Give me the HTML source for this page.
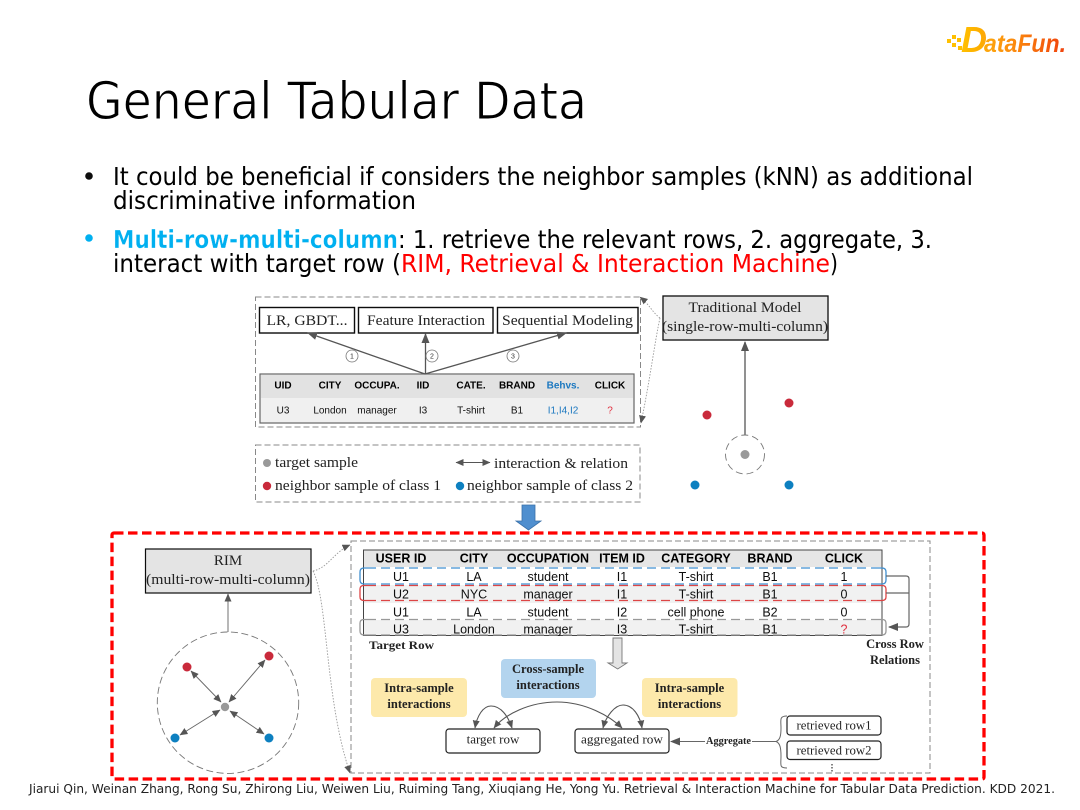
<!DOCTYPE html>
<html><head><meta charset="utf-8">
<style>
html,body{margin:0;padding:0;background:#fff}
svg{display:block}
.sans{font-family:"Liberation Sans",sans-serif}
.ser{font-family:"Liberation Serif",serif}
.dj{font-family:"DejaVu Sans",sans-serif}
.h{font-family:"Liberation Sans",sans-serif;font-weight:bold;fill:#000;text-anchor:middle}
.c{font-family:"Liberation Sans",sans-serif;fill:#111;text-anchor:middle}
.s{font-family:"Liberation Serif",serif;fill:#222}
.b{font-family:"Liberation Serif",serif;font-weight:bold;fill:#222;text-anchor:middle}
</style></head>
<body>
<svg width="1080" height="810" viewBox="0 0 1080 810" xmlns="http://www.w3.org/2000/svg">
<defs>
<filter id="bl" x="-2%" y="-2%" width="104%" height="104%"><feGaussianBlur stdDeviation="0.32"/></filter>
<filter id="bt" x="-2%" y="-5%" width="104%" height="110%"><feGaussianBlur stdDeviation="0.2"/></filter>
<linearGradient id="lg" gradientUnits="userSpaceOnUse" x1="962" x2="1066" y1="0" y2="0"><stop offset="0" stop-color="#ffc000"/><stop offset="0.5" stop-color="#fb8a10"/><stop offset="1" stop-color="#f0400c"/></linearGradient>
<marker id="a" markerWidth="10" markerHeight="8" refX="9" refY="4" orient="auto-start-reverse" markerUnits="userSpaceOnUse"><path d="M0,0L10,4L0,8Z" fill="#555"/></marker>
<marker id="as" markerWidth="8" markerHeight="7" refX="7.5" refY="3.5" orient="auto-start-reverse" markerUnits="userSpaceOnUse"><path d="M0,0L8,3.5L0,7Z" fill="#555"/></marker>
</defs>

<!-- logo -->
<g filter="url(#bt)">
<g fill="#ffc000"><rect x="947" y="39" width="4" height="4"/><rect x="952" y="35" width="4" height="4"/><rect x="952" y="43" width="4" height="4"/><rect x="957" y="38" width="4" height="4"/><rect x="958" y="46" width="4" height="4"/></g>
<text x="961" y="52" class="sans" font-size="36" font-weight="bold" font-style="italic" fill="url(#lg)">D</text>
<text x="984" y="52" class="sans" font-size="25" font-weight="bold" font-style="italic" fill="url(#lg)" textLength="82" lengthAdjust="spacingAndGlyphs">ataFun.</text>
</g>

<g filter="url(#bt)">
<!-- title -->
<text x="86" y="119" class="dj" font-size="52" fill="#000" stroke="#fff" stroke-width="1" textLength="501" lengthAdjust="spacingAndGlyphs">General Tabular Data</text>

<!-- bullets -->
<circle cx="89" cy="176" r="3.8" fill="#111"/>
<text x="113" y="185" class="dj" font-size="25" fill="#000" textLength="860" lengthAdjust="spacingAndGlyphs">It could be beneficial if considers the neighbor samples (kNN) as additional</text>
<text x="113" y="209" class="dj" font-size="25" fill="#000" textLength="303" lengthAdjust="spacingAndGlyphs">discriminative information</text>
<text x="398" y="248" class="dj" font-size="25" fill="#000" textLength="534" lengthAdjust="spacingAndGlyphs">: 1. retrieve the relevant rows, 2. aggregate, 3.</text>
<text x="113" y="272" class="dj" font-size="25" fill="#000" textLength="288" lengthAdjust="spacingAndGlyphs">interact with target row (</text>
<text x="401" y="272" class="dj" font-size="25" fill="#f00" textLength="429" lengthAdjust="spacingAndGlyphs">RIM, Retrieval &amp; Interaction Machine</text>
<text x="830" y="272" class="dj" font-size="25" fill="#000" textLength="8" lengthAdjust="spacingAndGlyphs">)</text>
<circle cx="89" cy="238" r="3.8" fill="#00b0f0"/>
<text x="113" y="248" class="dj" font-size="25" font-weight="bold" fill="#00b0f0" stroke="#fff" stroke-width="0.3" textLength="285" lengthAdjust="spacingAndGlyphs">Multi-row-multi-column</text>
</g>

<g filter="url(#bl)">
<!-- top diagram -->
<rect x="255.5" y="297" width="385" height="130" fill="none" stroke="#888" stroke-width="1" stroke-dasharray="6 3"/>
<g fill="#fff" stroke="#111" stroke-width="1.4">
<rect x="259.5" y="307.5" width="95" height="25.5"/>
<rect x="358.5" y="307.5" width="134.500" height="25.5"/>
<rect x="497.500" y="307.5" width="140.500" height="25.5"/>
</g>
<text x="307" y="325" class="s" font-size="15" text-anchor="middle" textLength="81" lengthAdjust="spacingAndGlyphs">LR, GBDT...</text>
<text x="426" y="325" class="s" font-size="15" text-anchor="middle" textLength="118" lengthAdjust="spacingAndGlyphs">Feature Interaction</text>
<text x="567.500" y="325" class="s" font-size="15" text-anchor="middle" textLength="131" lengthAdjust="spacingAndGlyphs">Sequential Modeling</text>

<rect x="260" y="374" width="374" height="49" fill="#f0f0f0" stroke="#666" stroke-width="1.2"/>
<rect x="261" y="375" width="372" height="23" fill="#e2e2e2"/>
<g stroke="#555" stroke-width="1.3" fill="none" marker-end="url(#a)">
<line x1="425" y1="374" x2="308" y2="333"/>
<line x1="425.500" y1="374" x2="425.500" y2="334"/>
<line x1="425" y1="374" x2="566" y2="333"/>
</g>
<g fill="#fff" stroke="#777" stroke-width="0.8"><circle cx="352" cy="356" r="6"/><circle cx="432" cy="356" r="6"/><circle cx="513" cy="356" r="6"/></g>
<g class="sans" font-size="7" fill="#333" text-anchor="middle"><text x="352" y="358.500" class="sans">1</text><text x="432" y="358.500" class="sans">2</text><text x="513" y="358.500" class="sans">3</text></g>
<g font-size="10">
<text x="283" y="388.500" class="h">UID</text><text x="330" y="388.500" class="h">CITY</text><text x="377" y="388.500" class="h">OCCUPA.</text><text x="423" y="388.500" class="h">IID</text><text x="471" y="388.500" class="h">CATE.</text><text x="517" y="388.500" class="h">BRAND</text><text x="563" y="388.500" class="h" style="fill:#1c78c0">Behvs.</text><text x="610" y="388.500" class="h">CLICK</text>
<text x="283" y="413.500" class="c">U3</text><text x="330" y="413.500" class="c">London</text><text x="377" y="413.500" class="c">manager</text><text x="423" y="413.500" class="c">I3</text><text x="471" y="413.500" class="c">T-shirt</text><text x="517" y="413.500" class="c">B1</text><text x="563" y="413.500" class="c" style="fill:#1c78c0">I1,I4,I2</text><text x="610" y="413.500" class="c" style="fill:#e03040">?</text>
</g>

<!-- legend -->
<rect x="255.500" y="445" width="384.500" height="57" fill="none" stroke="#888" stroke-width="1" stroke-dasharray="6 3"/>
<circle cx="267" cy="463" r="4" fill="#999"/>
<text x="275" y="467" class="s" font-size="14.500" textLength="83" lengthAdjust="spacingAndGlyphs">target sample</text>
<line x1="456" y1="462.500" x2="490" y2="462.500" stroke="#555" stroke-width="1" marker-start="url(#as)" marker-end="url(#as)"/>
<text x="494" y="468" class="s" font-size="14.500" textLength="134" lengthAdjust="spacingAndGlyphs">interaction &amp; relation</text>
<circle cx="267" cy="486" r="4.200" fill="#c9293a"/>
<text x="275" y="490" class="s" font-size="14.500" textLength="166" lengthAdjust="spacingAndGlyphs">neighbor sample of class 1</text>
<circle cx="460" cy="486" r="4.200" fill="#1080c0"/>
<text x="467" y="490" class="s" font-size="14.500" textLength="166" lengthAdjust="spacingAndGlyphs">neighbor sample of class 2</text>

<!-- traditional model -->
<rect x="663" y="296" width="165" height="44" fill="#e4e4e4" stroke="#111" stroke-width="1.3"/>
<text x="745" y="312" class="s" font-size="15" text-anchor="middle" textLength="113" lengthAdjust="spacingAndGlyphs">Traditional Model</text>
<text x="745" y="331" class="s" font-size="15" text-anchor="middle" textLength="166" lengthAdjust="spacingAndGlyphs">(single-row-multi-column)</text>
<line x1="745" y1="435" x2="745" y2="342" stroke="#555" stroke-width="1.300" marker-end="url(#a)"/>
<circle cx="745" cy="454.500" r="19.500" fill="none" stroke="#777" stroke-width="0.9" stroke-dasharray="7 4"/>
<circle cx="745" cy="454.500" r="4.500" fill="#999"/>
<circle cx="707" cy="415" r="4.500" fill="#c9293a"/><circle cx="789" cy="403" r="4.500" fill="#c9293a"/>
<circle cx="695" cy="485" r="4.500" fill="#1080c0"/><circle cx="789" cy="485" r="4.500" fill="#1080c0"/>
<path d="M660,318 C652,312 650,305 640,297" fill="none" stroke="#999" stroke-width="0.9" stroke-dasharray="1.500 1.500" marker-end="url(#as)"/>
<path d="M660,318 C655,340 650,380 641,423" fill="none" stroke="#999" stroke-width="0.9" stroke-dasharray="1.500 1.500" marker-end="url(#as)"/>

<!-- down arrow -->
<path d="M522,505H535V521H541L528.500,530L516,521H522Z" fill="#4f8fcf" stroke="#3a70a8" stroke-width="0.8"/>

<!-- RIM left -->
<rect x="145.500" y="549" width="165.500" height="44" fill="#e4e4e4" stroke="#111" stroke-width="1.200"/>
<text x="228" y="565" class="s" font-size="15" text-anchor="middle">RIM</text>
<text x="228" y="584" class="s" font-size="15" text-anchor="middle" textLength="164" lengthAdjust="spacingAndGlyphs">(multi-row-multi-column)</text>
<line x1="228" y1="632" x2="228" y2="594" stroke="#888" stroke-width="1.200" marker-end="url(#as)"/>
<circle cx="228" cy="702.700" r="70.700" fill="none" stroke="#777" stroke-width="0.900" stroke-dasharray="7 3.500"/>
<g stroke="#666" stroke-width="0.900" marker-start="url(#as)" marker-end="url(#as)">
<line x1="221" y1="702" x2="191" y2="671"/>
<line x1="229" y1="702" x2="265" y2="660"/>
<line x1="220" y1="710" x2="180" y2="735"/>
<line x1="230" y1="711" x2="264" y2="734"/>
</g>
<circle cx="225" cy="707" r="4.200" fill="#999"/>
<circle cx="187" cy="667" r="4.500" fill="#c9293a"/><circle cx="269" cy="656" r="4.500" fill="#c9293a"/>
<circle cx="175" cy="738" r="4.500" fill="#1080c0"/><circle cx="269" cy="738" r="4.500" fill="#1080c0"/>
<path d="M313,571 C328,568 334,552 350,545" fill="none" stroke="#999" stroke-width="0.900" stroke-dasharray="1.500 1.500" marker-end="url(#as)"/>
<path d="M313,571 C328,600 325,700 350,773" fill="none" stroke="#999" stroke-width="0.900" stroke-dasharray="1.500 1.500" marker-end="url(#as)"/>

<!-- inner dashed -->
<rect x="351" y="541" width="579" height="232" fill="none" stroke="#888" stroke-width="1" stroke-dasharray="6 3"/>

<!-- table -->
<rect x="363.500" y="550" width="518.500" height="85.500" fill="#fff"/>
<rect x="363.500" y="550" width="518.500" height="17" fill="#e6e6e6"/>
<rect x="363.500" y="585" width="518.500" height="18" fill="#f1f1f1"/>
<rect x="363.500" y="620" width="518.500" height="15.500" fill="#f1f1f1"/>
<path d="M363.500,635.500V550H882V635.500Z" fill="none" stroke="#444" stroke-width="1"/>
<g font-size="12.500">
<text x="401" y="562.500" class="h">USER ID</text><text x="474" y="562.500" class="h">CITY</text><text x="548" y="562.500" class="h">OCCUPATION</text><text x="622" y="562.500" class="h">ITEM ID</text><text x="696" y="562.500" class="h">CATEGORY</text><text x="770" y="562.500" class="h">BRAND</text><text x="844" y="562.500" class="h">CLICK</text>
<text x="401" y="581" class="c">U1</text><text x="474" y="581" class="c">LA</text><text x="548" y="581" class="c">student</text><text x="622" y="581" class="c">I1</text><text x="696" y="581" class="c">T-shirt</text><text x="770" y="581" class="c">B1</text><text x="844" y="581" class="c">1</text>
<text x="401" y="598.500" class="c">U2</text><text x="474" y="598.500" class="c">NYC</text><text x="548" y="598.500" class="c">manager</text><text x="622" y="598.500" class="c">I1</text><text x="696" y="598.500" class="c">T-shirt</text><text x="770" y="598.500" class="c">B1</text><text x="844" y="598.500" class="c">0</text>
<text x="401" y="616.500" class="c">U1</text><text x="474" y="616.500" class="c">LA</text><text x="548" y="616.500" class="c">student</text><text x="622" y="616.500" class="c">I2</text><text x="696" y="616.500" class="c">cell phone</text><text x="770" y="616.500" class="c">B2</text><text x="844" y="616.500" class="c">0</text>
<text x="401" y="633.500" class="c">U3</text><text x="474" y="633.500" class="c">London</text><text x="548" y="633.500" class="c">manager</text><text x="622" y="633.500" class="c">I3</text><text x="696" y="633.500" class="c">T-shirt</text><text x="770" y="633.500" class="c">B1</text><text x="844" y="633.500" class="c" style="fill:#e03040">?</text>
</g>
<!-- row highlights -->
<g fill="none" stroke-width="1.300">
<g stroke="#3f8fd0"><path d="M367,568H880M367,584H880" stroke-dasharray="9 5"/><path d="M367,568H364Q360,568 360,572V580Q360,584 364,584H367M880,568H882Q886,568 886,572V580Q886,584 882,584H880"/></g>
<g stroke="#dd4444"><path d="M367,585.500H880M367,600.500H880" stroke-dasharray="9 5"/><path d="M367,585.500H364Q360,585.500 360,589V597Q360,600.500 364,600.500H367M880,585.500H882Q886,585.500 886,589V597Q886,600.500 882,600.500H880"/></g>
<g stroke="#999"><path d="M367,619.500H880M367,635H880" stroke-dasharray="9 5"/><path d="M367,619.500H364Q360,619.500 360,623V631Q360,635 364,635H367M880,619.500H882Q886,619.500 886,623V631Q886,635 882,635H880"/></g>
</g>
<path d="M886,576H906Q909,576 909,579V624Q909,627 906,627H889" fill="none" stroke="#666" stroke-width="1.200" marker-end="url(#a)"/>
<path d="M886,593H909" fill="none" stroke="#666" stroke-width="1.200"/>
<text x="401.500" y="649" class="b" font-size="12" textLength="65" lengthAdjust="spacingAndGlyphs">Target Row</text>
<text x="895" y="648" class="b" font-size="12.500">Cross Row</text>
<text x="895" y="664" class="b" font-size="12.500">Relations</text>
<path d="M613,638H622V663H627L617.700,669L608,663H613Z" fill="#e4e4e4" stroke="#777" stroke-width="0.900"/>

<!-- interaction boxes -->
<rect x="501" y="659" width="95" height="39" rx="4" fill="#b3d4ee"/>
<text x="548" y="673" class="b" font-size="12.500">Cross-sample</text>
<text x="548" y="689" class="b" font-size="12.500">interactions</text>
<rect x="371" y="678" width="96" height="39" rx="4" fill="#fde9ab"/>
<text x="419" y="692" class="b" font-size="12.500">Intra-sample</text>
<text x="419" y="708" class="b" font-size="12.500">interactions</text>
<rect x="642" y="678" width="95.500" height="39" rx="4" fill="#fde9ab"/>
<text x="689.500" y="692" class="b" font-size="12.500">Intra-sample</text>
<text x="689.500" y="708" class="b" font-size="12.500">interactions</text>

<rect x="446" y="729" width="94" height="24" rx="3" fill="#fff" stroke="#222" stroke-width="1.200"/>
<text x="493" y="743.500" class="s" font-size="13" text-anchor="middle">target  row</text>
<rect x="575" y="729" width="94" height="24" rx="3" fill="#fff" stroke="#222" stroke-width="1.200"/>
<text x="622" y="743.500" class="s" font-size="13" text-anchor="middle" textLength="82" lengthAdjust="spacingAndGlyphs">aggregated row</text>
<g fill="none" stroke="#555" stroke-width="1.100" marker-end="url(#as)">
<path d="M491,706 C483,706 477,716 475,728"/>
<path d="M491,706 C501,706 508,716 512,728"/>
<path d="M623,705 C615,705 606,716 603,728"/>
<path d="M623,705 C633,705 640,716 642,728"/>
<path d="M557,702 C530,702 505,714 494,728"/>
<path d="M557,702 C585,702 610,716 622,728"/>
</g>

<!-- retrieved -->
<rect x="787" y="716" width="94" height="19" rx="3" fill="#fff" stroke="#222" stroke-width="1.200"/>
<text x="834" y="729.500" class="s" font-size="13" text-anchor="middle" textLength="75" lengthAdjust="spacingAndGlyphs">retrieved row1</text>
<rect x="787" y="741" width="94" height="18.500" rx="3" fill="#fff" stroke="#222" stroke-width="1.200"/>
<text x="834" y="754.500" class="s" font-size="13" text-anchor="middle" textLength="75" lengthAdjust="spacingAndGlyphs">retrieved row2</text>
<path d="M787,716 C779,716 781,720 781,728 C781,736 780,740 776,741.500 C780,743 781,748 781,756 C781,765 779,768 787,768" fill="none" stroke="#666" stroke-width="1"/>
<line x1="776" y1="741.500" x2="671" y2="741.500" stroke="#666" stroke-width="1.100" marker-end="url(#a)"/>
<rect x="705" y="735" width="47" height="12" fill="#fff"/>
<text x="728.500" y="744" class="b" font-size="10" textLength="45" lengthAdjust="spacingAndGlyphs">Aggregate</text>
<line x1="832" y1="764" x2="832" y2="773" stroke="#333" stroke-width="1.200" stroke-dasharray="1.500 1.500"/>

<!-- red border -->
<rect x="112" y="533" width="872" height="246" rx="2" fill="none" stroke="#f00" stroke-width="3.3" stroke-dasharray="9.500 4.500"/>
</g>

<!-- footer -->
<text x="29" y="793" class="dj" font-size="12.500" fill="#222" textLength="1026" lengthAdjust="spacingAndGlyphs">Jiarui Qin, Weinan Zhang, Rong Su, Zhirong Liu, Weiwen Liu, Ruiming Tang, Xiuqiang He, Yong Yu. Retrieval &amp; Interaction Machine for Tabular Data Prediction. KDD 2021.</text>
</svg>
</body></html>
